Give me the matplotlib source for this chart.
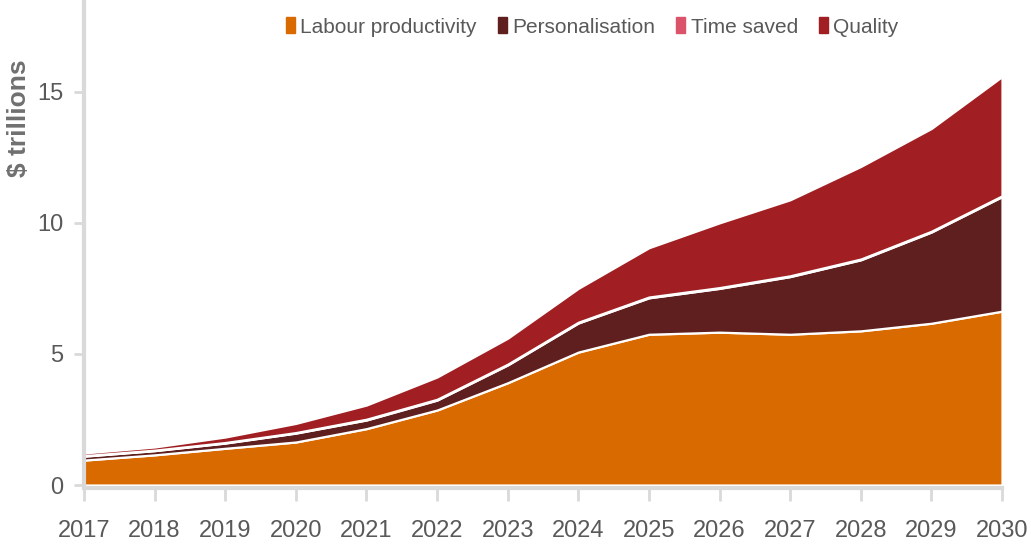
import matplotlib
matplotlib.use("Agg")
import matplotlib.pyplot as plt
import numpy as np

years = [2017, 2018, 2019, 2020, 2021, 2022, 2023, 2024, 2025, 2026, 2027, 2028, 2029, 2030]
labour = [0.95, 1.15, 1.40, 1.64, 2.15, 2.86, 3.90, 5.07, 5.75, 5.83, 5.75, 5.88, 6.17, 6.63]
personalisation = [0.15, 0.16, 0.20, 0.34, 0.33, 0.38, 0.68, 1.11, 1.39, 1.67, 2.20, 2.71, 3.48, 4.37]
time_saved = [0.02, 0.02, 0.02, 0.02, 0.03, 0.03, 0.03, 0.03, 0.03, 0.03, 0.03, 0.03, 0.03, 0.03]
quality = [0.10, 0.12, 0.21, 0.35, 0.54, 0.85, 0.99, 1.29, 1.88, 2.47, 2.90, 3.53, 3.92, 4.55]
series_names = ["Labour productivity", "Personalisation", "Time saved", "Quality"]
colors = ["#d96a00", "#5e1f1e", "#db536a", "#a11f22"]
yticks = [0, 5, 10, 15]

plt.rcParams['font.family'] = ['Liberation Sans', 'DejaVu Sans']

fig = plt.figure(figsize=(10.31, 5.51), dpi=100)
ax = fig.add_axes([84/1031, 1-485/551, (1002-84)/1031, 485/551])

ax.stackplot(years, labour, personalisation, time_saved, quality,
             colors=colors, labels=series_names,
             edgecolor="white", linewidth=1.6)

ax.set_xlim(2017, 2030)
ax.set_ylim(0, 18.5)
ax.set_xticks(years)
ax.set_xticklabels([str(y) for y in years])
ax.set_yticks(yticks)
ax.tick_params(axis='x', length=9, width=2, color="#d9d9d9", labelsize=17,
               labelcolor="#595959", pad=14)
ax.tick_params(axis='y', length=7, width=2, color="#d9d9d9", labelsize=17,
               labelcolor="#595959", pad=8)
for s in ["top", "right"]:
    ax.spines[s].set_visible(False)
for s in ["left", "bottom"]:
    ax.spines[s].set_color("#d9d9d9")
    ax.spines[s].set_linewidth(3)
ax.spines["bottom"].set_position(("outward", 2))

fig.text(19/1031, 1-118/551, "$ trillions", rotation=90, ha="center", va="center",
         fontsize=19, color="#707070", fontweight="bold")

handles = [plt.Rectangle((0, 0), 1, 1, color=c) for c in colors]
leg = fig.legend(handles, series_names, loc="center", bbox_to_anchor=(592/1031, 1-27/551),
                 ncol=4, frameon=False, fontsize=15, handlelength=0.45, handleheight=0.8,
                 handletextpad=0.25, columnspacing=1.0)
for t in leg.get_texts():
    t.set_color("#595959")

fig.savefig("out.png", dpi=100)
